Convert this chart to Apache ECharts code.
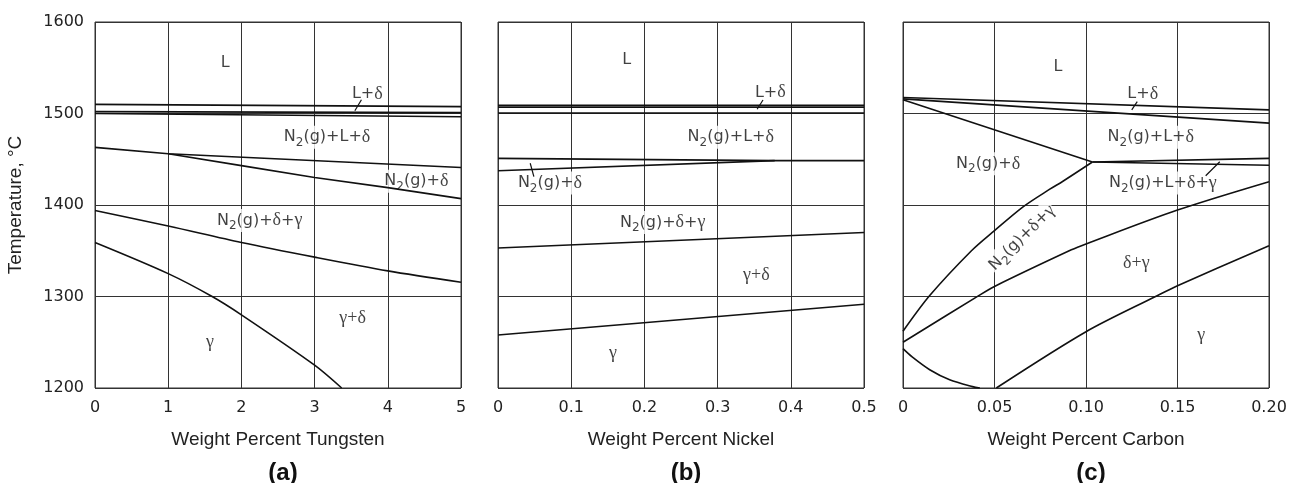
<!DOCTYPE html>
<html>
<head>
<meta charset="utf-8">
<script src="https://cdn.jsdelivr.net/npm/echarts@6.0.0/dist/echarts.min.js"></script>
<style>
  html, body { margin: 0; padding: 0; background: #fff; }
  #chart { width: 1304px; height: 483px; }
</style>
</head>
<body>
<div id="chart"></div>
<script>
// tick labels
const tempTicks = ['1200', '1300', '1400', '1500', '1600'];
const tungstenTicks = ['0', '1', '2', '3', '4', '5'];
const nickelTicks = ['0', '0.1', '0.2', '0.3', '0.4', '0.5'];
const carbonTicks = ['0', '0.05', '0.10', '0.15', '0.20'];

// (a) tungsten: [wt%, °C]
const aLiquidus = [[0, 1510], [5, 1507.5]];
const aSolidus = [[0, 1502], [5, 1501]];
const aN2Liq = [[0, 1500], [5, 1496.5]];
const aDeltaTop = [[0, 1463], [1, 1456], [5, 1441]];
const aDeltaLow = [[1, 1456], [2, 1443], [3, 1430], [4, 1419], [5, 1407]];
const aGammaTop = [[0, 1394], [1, 1377], [2, 1359], [3, 1343], [4, 1328], [5, 1315.5]];
const aGamma = [[0, 1359], [1, 1325], [1.6, 1300], [2, 1280], [3, 1225], [3.37, 1200]];
const aLeader = [[3.55, 1503], [3.64, 1515]];
const aLabels = [
  [1.78, 1555, 'L'],
  [3.72, 1521, 'L+{gr|δ}'],
  [3.17, 1474, 'N{sub|2}(g)+L+{gr|δ}'],
  [4.39, 1426, 'N{sub|2}(g)+{gr|δ}'],
  [2.25, 1383, 'N{sub|2}(g)+{gr|δ}+{gr|γ}'],
  [3.52, 1276, '{gr|γ+δ}'],
  [1.57, 1250, '{gr|γ}']
];

// (b) nickel
const bLiquidus = [[0, 1509], [0.5, 1509]];
const bSolidus = [[0, 1507], [0.5, 1507]];
const bN2Liq = [[0, 1500.5], [0.5, 1500.5]];
const bDeltaTop = [[0, 1451], [0.378, 1448.5], [0.5, 1448.5]];
const bDeltaLow = [[0, 1437.5], [0.378, 1448.5]];
const bGammaTop = [[0, 1353], [0.5, 1370]];
const bGamma = [[0, 1258], [0.5, 1291.5]];
const bLeader1 = [[0.354, 1504.6], [0.362, 1514.8]];
const bLeader2 = [[0.044, 1445.6], [0.049, 1431]];
const bLabels = [
  [0.176, 1559, 'L'],
  [0.372, 1523, 'L+{gr|δ}'],
  [0.318, 1474, 'N{sub|2}(g)+L+{gr|δ}'],
  [0.071, 1424, 'N{sub|2}(g)+{gr|δ}'],
  [0.225, 1381, 'N{sub|2}(g)+{gr|δ}+{gr|γ}'],
  [0.353, 1323, '{gr|γ+δ}'],
  [0.157, 1238, '{gr|γ}']
];

// (c) carbon
const cLiquidus = [[0, 1517.5], [0.2, 1504]];
const cSolidus = [[0, 1516], [0.2, 1489.5]];
const cDeltaTop = [[0, 1515], [0.1035, 1447]];
const cUpperRight = [[0.1035, 1447], [0.2, 1451]];
const cLowerRight = [[0.1035, 1447], [0.2, 1443.5]];
const cDeltaCurve = [[0, 1262], [0.0146, 1301], [0.0374, 1350], [0.05, 1372], [0.0656, 1398], [0.08, 1417], [0.0874, 1426], [0.1035, 1447]];
const cGammaTop = [[0, 1250], [0.0414, 1301], [0.05, 1311], [0.092, 1351], [0.1, 1357.5], [0.15, 1394.5], [0.2, 1425.5]];
const cGamma = [[0.051, 1200], [0.1, 1261.5], [0.138, 1300], [0.15, 1311.8], [0.2, 1355.5]];
const cArc = [[0, 1243], [0.005, 1234], [0.0146, 1220], [0.0255, 1209], [0.038, 1201.5], [0.042, 1200]];
const cLeader1 = [[0.125, 1504], [0.128, 1513]];
const cLeader2 = [[0.1654, 1432], [0.1731, 1447.3]];
const cLabels = [
  [0.0847, 1551, 'L'],
  [0.131, 1521, 'L+{gr|δ}'],
  [0.1354, 1474, 'N{sub|2}(g)+L+{gr|δ}'],
  [0.0465, 1445, 'N{sub|2}(g)+{gr|δ}'],
  [0.142, 1424, 'N{sub|2}(g)+L+{gr|δ}+{gr|γ}'],
  [0.0651, 1364, 'N{sub|2}(g)+{gr|δ}+{gr|γ}', 45],
  [0.1275, 1336, '{gr|δ+γ}'],
  [0.163, 1258, '{gr|γ}']
];

const ink = '#111';
const gridColor = '#333';
const tickFont = 'DejaVu Sans';

function curve(idx, data, smooth, w) {
  return {
    type: 'line', xAxisIndex: idx, yAxisIndex: idx, data: data,
    showSymbol: false, symbol: 'none', silent: true, z: 3,
    smooth: smooth ? 0.3 : false,
    lineStyle: { color: ink, width: w || 1.6 }
  };
}

function labels(idx, list) {
  return {
    type: 'scatter', xAxisIndex: idx, yAxisIndex: idx, symbolSize: 0, silent: true, z: 2,
    data: list.map(l => ({ value: [l[0], l[1], l[2]], label: l[3] ? { rotate: l[3] } : {} })),
    label: {
      show: true, position: 'inside', color: ink,
      fontFamily: tickFont, fontSize: 16,
      backgroundColor: '#fff', padding: [0, 1],
      formatter: p => p.value[2],
      rich: {
        sub: { fontFamily: tickFont, fontSize: 12, color: ink, padding: [11, 0, 0, 0] },
        gr: { fontFamily: 'Liberation Serif', fontSize: 18, color: ink }
      }
    }
  };
}

const panels = [
  { left: 95, max: 5, interval: 1, ticks: tungstenTicks, name: 'Weight Percent Tungsten', tag: '(a)' },
  { left: 498, max: 0.5, interval: 0.1, ticks: nickelTicks, name: 'Weight Percent Nickel', tag: '(b)' },
  { left: 903, max: 0.2, interval: 0.05, ticks: carbonTicks, name: 'Weight Percent Carbon', tag: '(c)' }
];

const option = {
  backgroundColor: '#fff',
  animation: false,
  title: panels.map(p => ({
    text: p.tag, left: p.left + 183, top: 456, textAlign: 'center',
    textStyle: { fontFamily: 'Liberation Sans', fontWeight: 'bold', fontSize: 24, color: ink }
  })),
  grid: panels.map(p => ({
    left: p.left, top: 22, width: 366, height: 366,
    show: true, borderColor: gridColor, borderWidth: 1, backgroundColor: 'transparent'
  })),
  xAxis: panels.map((p, i) => ({
    type: 'value', gridIndex: i, min: 0, max: p.max, interval: p.interval,
    name: p.name, nameLocation: 'middle', nameGap: 42,
    nameTextStyle: { fontFamily: 'Liberation Sans', fontSize: 19, color: '#222' },
    axisLine: { show: false }, axisTick: { show: false },
    axisLabel: {
      margin: 12, fontFamily: tickFont, fontSize: 16, color: '#222',
      formatter: (v, k) => p.ticks[k]
    },
    splitLine: { show: true, lineStyle: { color: gridColor, width: 1 } }
  })),
  yAxis: panels.map((p, i) => ({
    type: 'value', gridIndex: i, min: 1200, max: 1600, interval: 100,
    name: i === 0 ? 'Temperature, °C' : '', nameLocation: 'middle', nameGap: 70,
    nameTextStyle: { fontFamily: 'Liberation Sans', fontSize: 19, color: '#222' },
    axisLine: { show: false }, axisTick: { show: false },
    axisLabel: {
      show: i === 0, margin: 11, fontFamily: tickFont, fontSize: 16, color: '#222',
      formatter: (v, k) => tempTicks[k]
    },
    splitLine: { show: true, lineStyle: { color: gridColor, width: 1 } }
  })),
  series: [
    curve(0, aLiquidus), curve(0, aSolidus), curve(0, aN2Liq),
    curve(0, aDeltaTop), curve(0, aDeltaLow), curve(0, aGammaTop, true), curve(0, aGamma, true),
    curve(0, aLeader, false, 1.2), labels(0, aLabels),

    curve(1, bLiquidus), curve(1, bSolidus), curve(1, bN2Liq),
    curve(1, bDeltaTop), curve(1, bDeltaLow), curve(1, bGammaTop), curve(1, bGamma),
    curve(1, bLeader1, false, 1.2), curve(1, bLeader2, false, 1.2), labels(1, bLabels),

    curve(2, cLiquidus), curve(2, cSolidus), curve(2, cDeltaTop),
    curve(2, cUpperRight), curve(2, cLowerRight),
    curve(2, cDeltaCurve, true), curve(2, cGammaTop, true), curve(2, cGamma, true), curve(2, cArc, true),
    curve(2, cLeader1, false, 1.2), curve(2, cLeader2, false, 1.2), labels(2, cLabels)
  ]
};

const chart = echarts.init(document.getElementById('chart'));
chart.setOption(option);
window.addEventListener('resize', function () { chart.resize(); });
</script>
</body>
</html>
